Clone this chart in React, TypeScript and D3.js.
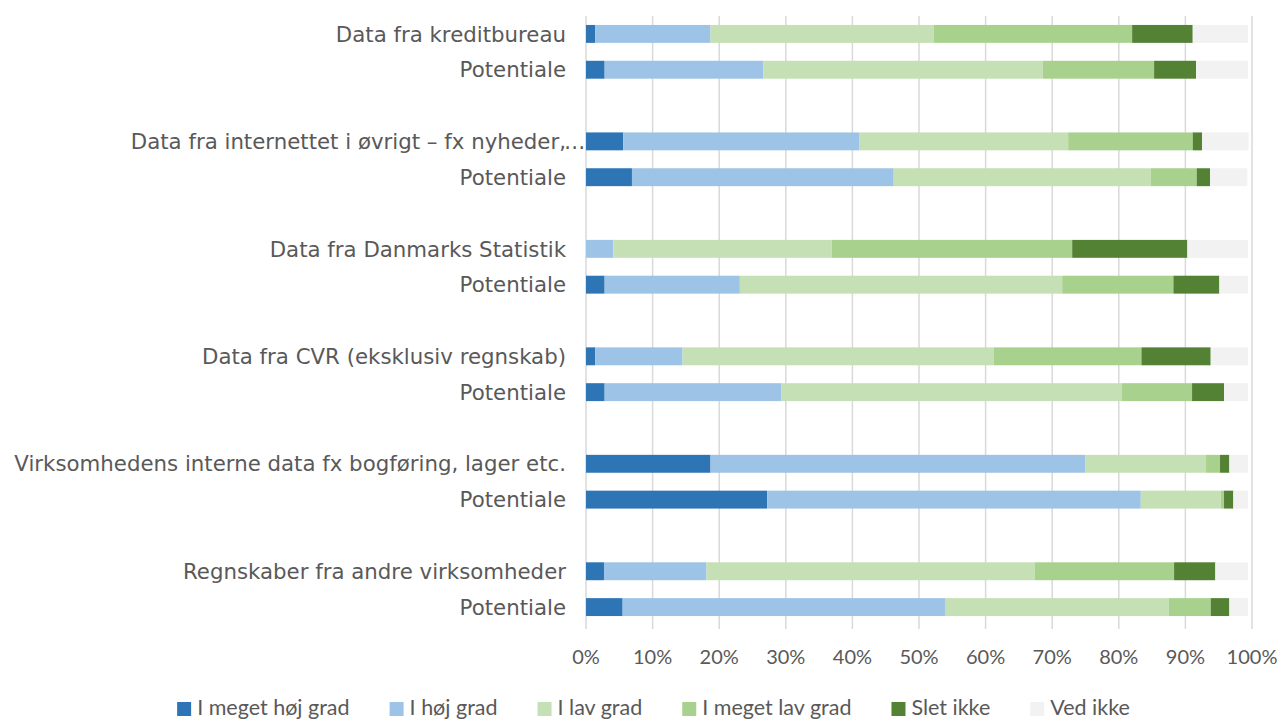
import React, { useEffect, useRef } from "react";
import * as d3 from "d3";

const groupLabels = [
  "Data fra kreditbureau",
  "Data fra internettet i øvrigt – fx nyheder,…",
  "Data fra Danmarks Statistik",
  "Data fra CVR (eksklusiv regnskab)",
  "Virksomhedens interne data fx bogføring, lager etc.",
  "Regnskaber fra andre virksomheder",
];
const subLabel = "Potentiale";

const seriesNames = ["I meget høj grad", "I høj grad", "I lav grad", "I meget lav grad", "Slet ikke", "Ved ikke"];
const seriesColors = ["#2E75B6", "#9DC3E6", "#C5E0B4", "#A9D18E", "#548235", "#F2F2F2"];

// values per row (top to bottom), percentages for each series
const meget_hoej = [1.4, 2.8, 5.6, 6.9, 0.0, 2.8, 1.4, 2.8, 18.7, 27.2, 2.7, 5.5];
const hoej = [17.3, 23.8, 35.4, 39.3, 4.1, 20.3, 13.1, 26.5, 56.3, 56.1, 15.4, 48.4];
const lav = [33.5, 42.0, 31.4, 38.6, 32.8, 48.4, 46.7, 51.1, 18.1, 12.0, 49.3, 33.6];
const meget_lav = [29.8, 16.7, 18.7, 6.9, 36.1, 16.7, 22.2, 10.6, 2.1, 0.5, 20.9, 6.3];
const slet_ikke = [9.1, 6.3, 1.4, 2.0, 17.3, 6.9, 10.4, 4.8, 1.4, 1.4, 6.2, 2.8];
const ved_ikke = [8.3, 7.8, 7.0, 5.6, 9.1, 4.3, 5.6, 3.6, 2.8, 2.2, 4.9, 2.8];

const xTicks = [0, 10, 20, 30, 40, 50, 60, 70, 80, 90, 100];

const W = 1284;
const H = 720;

export default function App() {
  const ref = useRef<SVGSVGElement | null>(null);

  useEffect(() => {
    const svg = d3.select(ref.current);
    svg.selectAll("*").remove();

    const textColor = "#595959";
    const catFont = "'DejaVu Sans', Verdana, sans-serif";
    const axFont = "Lato, 'Open Sans', sans-serif";

    // rows with spacers between groups
    const rowKeys: string[] = [];
    const rowLabels: { key: string; label: string }[] = [];
    groupLabels.forEach((g, gi) => {
      if (gi > 0) rowKeys.push(`gap${gi}`);
      rowKeys.push(`m${gi}`);
      rowKeys.push(`p${gi}`);
      rowLabels.push({ key: `m${gi}`, label: g });
      rowLabels.push({ key: `p${gi}`, label: subLabel });
    });
    const dataKeys = rowLabels.map((r) => r.key);

    const x = d3.scaleLinear().domain([0, 100]).range([586, 1252]);
    const y = d3.scaleBand().domain(rowKeys).range([16, 625]).paddingInner(0.5).paddingOuter(0.25);

    // gridlines
    svg
      .append("g")
      .selectAll("line")
      .data(xTicks)
      .join("line")
      .attr("x1", (d) => x(d))
      .attr("x2", (d) => x(d))
      .attr("y1", 16)
      .attr("y2", 629)
      .attr("stroke", "#D9D9D9")
      .attr("stroke-width", 1.5);

    const allSeries = [meget_hoej, hoej, lav, meget_lav, slet_ikke, ved_ikke];
    const table = dataKeys.map((k, i) => {
      const o: any = { key: k };
      seriesNames.forEach((s, si) => (o[s] = allSeries[si][i]));
      return o;
    });
    const stack = d3.stack<any>().keys(seriesNames)(table);

    const gBars = svg.append("g");
    stack.forEach((layer, si) => {
      gBars
        .append("g")
        .attr("fill", seriesColors[si])
        .selectAll("rect")
        .data(layer)
        .join("rect")
        .attr("x", (d) => x(d[0]))
        .attr("width", (d) => Math.max(0, x(d[1]) - x(d[0])))
        .attr("y", (d) => y((d.data as any).key)!)
        .attr("height", y.bandwidth());
    });

    // category labels (a trailing ellipsis overflows past the label edge, as in the source)
    const labelX = 566;
    const gLab = svg.append("g").attr("font-family", catFont).attr("font-size", 21.3).attr("fill", textColor);
    rowLabels.forEach((r) => {
      const cy = y(r.key)! + y.bandwidth() / 2;
      const hasEllipsis = r.label.endsWith("…");
      const main = hasEllipsis ? r.label.slice(0, -1) : r.label;
      gLab
        .append("text")
        .attr("x", labelX)
        .attr("y", cy)
        .attr("dy", "0.36em")
        .attr("text-anchor", "end")
        .text(main);
      if (hasEllipsis) {
        gLab
          .append("text")
          .attr("x", labelX - 2)
          .attr("y", cy)
          .attr("dy", "0.36em")
          .attr("text-anchor", "start")
          .text("…");
      }
    });

    // x tick labels
    svg
      .append("g")
      .selectAll("text")
      .data(xTicks)
      .join("text")
      .attr("x", (d) => x(d))
      .attr("y", 664)
      .attr("text-anchor", "middle")
      .attr("font-family", axFont)
      .attr("font-size", 20)
      .attr("fill", textColor)
      .text((d) => `${d}%`);

    // legend
    const leg = svg.append("g");
    const items = leg.selectAll("g").data(seriesNames).join("g");
    items
      .append("rect")
      .attr("width", 14)
      .attr("height", 14)
      .attr("y", 702)
      .attr("fill", (_, i) => seriesColors[i]);
    const texts = items
      .append("text")
      .attr("x", 20)
      .attr("y", 715)
      .attr("font-family", axFont)
      .attr("font-size", 21.5)
      .attr("fill", textColor)
      .text((d) => d);
    const widths: number[] = [];
    texts.each(function () {
      widths.push((this as SVGTextElement).getComputedTextLength());
    });
    const gap = 40;
    const itemW = widths.map((w) => 20 + w);
    const total = d3.sum(itemW) + gap * (itemW.length - 1);
    let cx = 653.5 - total / 2;
    items.attr("transform", (_, i) => {
      const t = `translate(${cx},0)`;
      cx += itemW[i] + gap;
      return t;
    });
  }, []);

  return (
    <svg ref={ref} width={W} height={H} style={{ display: "block", position: "absolute", left: 0, top: 0, background: "#fff" }} />
  );
}
